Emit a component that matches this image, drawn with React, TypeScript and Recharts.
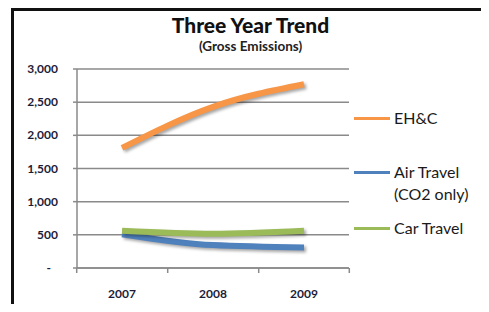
import React from 'react';
import { LineChart, Line, XAxis, YAxis, CartesianGrid } from 'recharts';

const years = ['2007', '2008', '2009'];
const ehc = [1810, 2430, 2770];
const airTravel = [510, 345, 310];
const carTravel = [560, 515, 560];
const yTicks = [0, 500, 1000, 1500, 2000, 2500, 3000];

const chartData = years.map((year, i) => ({
    year,
    ehc: ehc[i],
    air: airTravel[i],
    car: carTravel[i],
}));

const FONT = 'Lato, "Open Sans", sans-serif';
const AXIS = '#8a8a8a';
const shadow = { filter: 'drop-shadow(2px 2px 1.5px rgba(0,0,0,0.35))' };

const legendItems = [
    { label: ['EH&C'], color: '#F79646', top: 107 },
    { label: ['Air Travel', '(CO2 only)'], color: '#4F81BD', top: 161 },
    { label: ['Car Travel'], color: '#9BBB59', top: 217 },
];

// legend drawn as plain html so it sits at fixed spots right of the plot
const LegendBox = () => (
    <div style={{ fontFamily: FONT, fontSize: 16, color: '#1a1a1a' }}>
        {legendItems.map((item) => (
            <div key={item.label[0]} style={{ position: 'absolute', left: 354, top: item.top, width: 130, height: 50 }}>
                <div style={{ position: 'absolute', left: 0, top: 10, width: 36, height: 3, background: item.color }} />
                <div style={{ position: 'absolute', left: 40, top: 0, lineHeight: '22px', whiteSpace: 'nowrap' }}>
                    {item.label.map((l) => <div key={l}>{l}</div>)}
                </div>
            </div>
        ))}
    </div>
);

const YTick = (props: any) => {
    const { x, y, payload } = props;
    const v = payload.value as number;
    const label = v === 0 ? '-' : v.toLocaleString('en-US');
    return (
        <text x={v === 0 ? x - 7 : x} y={y} dy={4} textAnchor="end" fontFamily={FONT} fontWeight={700} fontSize={12} fill="#1c1c38">
            {label}
        </text>
    );
};

const XTick = (props: any) => {
    const { x, y, payload, index } = props;
    const half = 45.3;
    return (
        <g>
            <line x1={x - half} x2={x - half} y1={y - 8} y2={y - 3} stroke={AXIS} strokeWidth={1.5} />
            {index === years.length - 1 && (
                <line x1={x + half} x2={x + half} y1={y - 8} y2={y - 3} stroke={AXIS} strokeWidth={1.5} />
            )}
            <text x={x} y={y + 22} textAnchor="middle" fontFamily={FONT} fontWeight={700} fontSize={12} fill="#1c1c38">
                {payload.value}
            </text>
        </g>
    );
};

export default function App() {
    return (
        <div style={{ position: 'relative', width: 489, height: 312, margin: -8, overflow: 'hidden', background: '#fff' }}>
            <div style={{ position: 'absolute', left: 11, top: 8, width: 473, height: 330, border: '3px solid #111', boxSizing: 'border-box' }} />
            <div style={{ position: 'absolute', left: 0, width: 489, top: 12, textAlign: 'center', fontFamily: FONT, fontWeight: 900, fontSize: 21, color: '#111', paddingLeft: 6 }}>
                Three Year Trend
            </div>
            <div style={{ position: 'absolute', left: 0, width: 489, top: 38, textAlign: 'center', fontFamily: FONT, fontWeight: 700, fontSize: 13.5, color: '#222', paddingLeft: 6 }}>
                (Gross Emissions)
            </div>
            <div style={{ position: 'absolute', left: 0, top: 0 }}>
                <LineChart width={489} height={312} data={chartData} margin={{ top: 69, right: 140, bottom: 8, left: 0 }}>
                    <CartesianGrid vertical={false} stroke={AXIS} strokeWidth={1.5} />
                    <XAxis
                        dataKey="year"
                        padding={{ left: 45, right: 45 }}
                        stroke={AXIS}
                        strokeWidth={1.5}
                        tickLine={false}
                        tick={<XTick />}
                        height={36}
                        interval={0}
                    />
                    <YAxis
                        domain={[0, 3000]}
                        ticks={yTicks}
                        width={77}
                        stroke={AXIS}
                        strokeWidth={1.5}
                        tickSize={4}
                        tickMargin={15}
                        tick={<YTick />}
                        interval={0}
                    />
                    <Line type="monotone" dataKey="ehc" name="EH&C" stroke="#F79646" strokeWidth={6} dot={false} isAnimationActive={false} style={shadow} />
                    <Line type="monotone" dataKey="air" name="Air Travel (CO2 only)" stroke="#4F81BD" strokeWidth={6} dot={false} isAnimationActive={false} style={shadow} />
                    <Line type="monotone" dataKey="car" name="Car Travel" stroke="#9BBB59" strokeWidth={6} dot={false} isAnimationActive={false} style={shadow} />
                </LineChart>
            </div>
            <LegendBox />
        </div>
    );
}
